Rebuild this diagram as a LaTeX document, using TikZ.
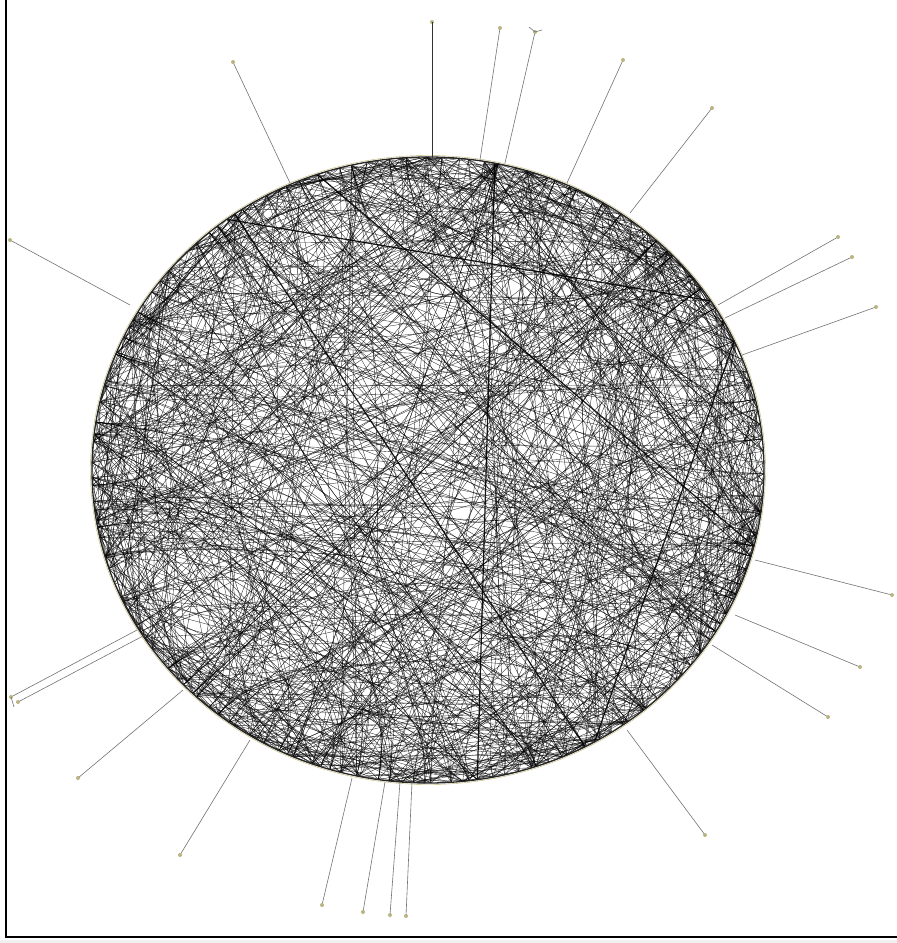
\documentclass[tikz,border=0pt]{standalone}
\usetikzlibrary{calc}
\definecolor{leafc}{RGB}{185,180,130}
\definecolor{rimc}{RGB}{190,180,110}
\begin{document}
\begin{tikzpicture}[x=1pt,y=-1pt,
  chord/.style={draw=black,line width=0.36pt,opacity=0.82},
  heavy/.style={draw=black,line width=1.2pt,opacity=0.9},
  spoke/.style={draw=black!55,line width=0.6pt},
  leaf/.style={fill=leafc}]
\useasboundingbox (0,0) rectangle (897,943);
\fill[white] (0,0) rectangle (897,943);
\fill[black!6] (0,940) rectangle (897,943);
% frame
\draw[line width=1.6pt] (6,0) -- (6,937) -- (897,937);
% ring of nodes
\coordinate (c) at (428,470);
\pgfmathsetseed{917}
\foreach \i in {0,...,179}{
  \pgfmathsetmacro{\t}{\i*2+1.7*rnd}
  \coordinate (n\i) at ({428+336*cos(\t)},{470+313*sin(\t)});
}
\foreach \k in {1,...,780}{
  \pgfmathrandominteger{\a}{0}{179}
  \pgfmathrandominteger{\b}{0}{179}
  \draw[chord] (n\a) -- (n\b);
}
\foreach \k in {1,...,180}{
  \pgfmathrandominteger{\a}{0}{179}
  \pgfmathrandominteger{\b}{0}{179}
  \pgfmathsetmacro{\f}{0.25+0.3*rnd}
  \draw[chord] (n\a) .. controls ($(n\a)!\f!(c)$) and ($(n\b)!\f!(c)$) .. (n\b);
}
% heavier chords
\draw[heavy] (n117) -- (n31);
\draw[heavy] (n167) -- (n30);
\draw[heavy] (n125) -- (n7);
\draw[heavy] (n116) -- (n163);
\draw[heavy] (n140) -- (n40);
% rim
\draw[line width=1.3pt,black!85] (c) ellipse [x radius=336, y radius=313];
\draw[line width=0.4pt,rimc] (c) ellipse [x radius=337.5, y radius=314.5];
% pendant nodes
\foreach \nm/\ox/\oy/\ix/\iy in {
  p1/233/62/290/183, p2/432/22/432/158, p3/500/28/480/160, p4/535/32/505/163,
  p5/623/60/567/183, p6/712/108/630/213, p7/838/237/718/305, p8/852/257/725/318,
  p9/876/307/742/355, p10/10/240/130/305, p11/892/595/755/560, p12/860/667/735/615,
  p13/828/717/712/645, p14/705/835/627/730, p15/11/697/137/630, p16/18/702/143/636,
  p17/78/778/183/690, p18/180/855/250/740, p19/322/905/352/778, p20/363/912/385/782,
  p21/390/915/400/782, p22/406/916/412/782}{
  \coordinate (\nm) at (\ox,\oy);
  \coordinate (\nm r) at (\ix,\iy);
  \draw[spoke] (\nm r) -- (\nm);
  \fill[leaf] (\nm) circle (2pt);
}
\draw[line width=1pt,black!80] (p2r) -- (p2);
\coordinate (y1) at (529,27);
\coordinate (y2) at (542,30);
\draw[spoke] (p4) -- (y1) (p4) -- (y2);
\coordinate (y3) at (14,707);
\draw[spoke] (p15) -- (y3);
\end{tikzpicture}
\end{document}
